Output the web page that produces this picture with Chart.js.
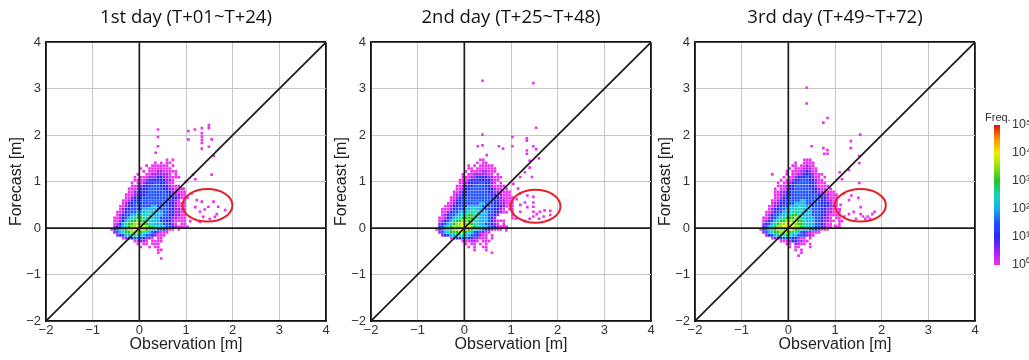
<!DOCTYPE html>
<html>
<head>
<meta charset="utf-8">
<script src="https://cdn.jsdelivr.net/npm/chart.js@4.4.1/dist/chart.umd.min.js"></script>
<style>
  html, body { margin: 0; padding: 0; background: #fff; }
  #wrap { position: relative; width: 1029px; height: 360px; overflow: hidden; }
  canvas { position: absolute; top: 0; }
</style>
</head>
<body>
<div id="wrap">
  <canvas id="day1" width="334" height="360" style="left:0px"></canvas>
  <canvas id="day2" width="334" height="360" style="left:325px"></canvas>
  <canvas id="day3" width="334" height="360" style="left:649px"></canvas>
  <canvas id="cbar" width="74" height="190" style="left:955px;top:95px"></canvas>
</div>
<script>
// DATA
const TITLES = ['1st day (T+01~T+24)', '2nd day (T+25~T+48)', '3rd day (T+49~T+72)']
const X_TITLE = 'Observation [m]'
const Y_TITLE = 'Forecast [m]'
const AXIS_TICKS = [-2, -1, 0, 1, 2, 3, 4]
const FREQ_TICKS = [1, 10, 100, 1000, 10000, 100000]
const FREQ_LABELS = ['10\u2070', '10\u00b9', '10\u00b2', '10\u00b3', '10\u2074', '10\u2075']

// reference lines
const DIAGONAL = [[-2, -2], [4, 4]]
const ZERO_X = [[0, -2], [0, 4]]
const ZERO_Y = [[-2, 0], [4, 0]]

// histogram bins: 0.0625 m, cols start at x=-0.625, rows start at y=1.5 going down
const BIN = 0.0625
const GRID_X0 = -0.625
const GRID_YTOP = 1.5
// digit = 2*log10(freq): 0 -> 10^0 ... 8 -> 10^4
const LEVEL_COLORS = ['#ee30f0', '#a020f5', '#2a2af2', '#1e50ff', '#14b0f0', '#14d2c0',
                      '#22c622', '#90e012', '#f0f000', '#ff9000', '#e01010']

// [start column, cells] per row, top row first
const DAY1_ROWS = [
  [19, '0.0'],
  [15, '0.0.00'],
  [12, '0.000000.0'],
  [10, '0..00000000'],
  [11, '0.0001100000'],
  [9, '0..001111110.0'],
  [8, '0.00011122110000'],
  [8, '00001222222110'],
  [7, '0.0012223322100'],
  [7, '00112223332221000'],
  [6, '0001222333332211000'],
  [6, '00112223333332211000'],
  [5, '000122233333333221100'],
  [5, '0012223333333332221000'],
  [4, '00122233333333332210.0'],
  [4, '0122333333333333221000'],
  [3, '00122333333443333221000'],
  [3, '01223333444443333221100'],
  [2, '001233344455444433221100'],
  [2, '012334445555544433221100'],
  [1, '0012345566555544333211000'],
  [1, '0012456676655444332210000'],
  [1, '0124566777665544433210.00'],
  [1, '12345677888766554433210000'],
  [0, '0234567788776544332100.0'],
  [1, '1345667776554321000'],
  [2, '12344555443321000'],
  [4, '01223332110.00'],
  [8, '00110.0000'],
  [9, '0.00.000'],
  [10, '0..0.00'],
  [16, '00'],
  [16, '0'],
  [0, ''],
  [17, '0'],
]
const DAY2_ROWS = [
  [15, '00'],
  [14, '0.00'],
  [11, '0.0.00000'],
  [11, '00.0000000'],
  [10, '0.000011000'],
  [9, '0.001111100.0'],
  [9, '00011222211000'],
  [8, '00012222222100'],
  [8, '0012222332210.0'],
  [7, '00122233332210000'],
  [7, '0012233333322100.0'],
  [6, '00122333333322110000'],
  [6, '01122333333332211000'],
  [5, '0012233333333322210000'],
  [5, '0122333333333332211000'],
  [4, '00122333333443332211000'],
  [3, '001223334444433332221000'],
  [2, '0001233344554443332210.00'],
  [2, '00123344455554443322100.0'],
  [2, '01233445566554443321....0'],
  [1, '00123455666655444321.....0'],
  [1, '01234566776655444321000'],
  [1, '123456778776554433210.0'],
  [1, '234567778887655443321000'],
  [0, '02345677887665443221000'],
  [1, '134566677654321100'],
  [2, '1234455544332100.0'],
  [5, '0122332211000.0'],
  [9, '000110.000'],
  [10, '0.00.0.0'],
  [11, '0.0..00'],
  [13, '0...0'],
  [19, '0'],
]
const DAY3_ROWS = [
  [15, '000'],
  [12, '0..0000'],
  [11, '00.00100'],
  [10, '0.00011100'],
  [9, '0.000112100'],
  [4, '0....0.00112221000'],
  [8, '0.00122232100.0'],
  [7, '0.0012233322100'],
  [6, '0.001223333221000'],
  [6, '000122333332210000'],
  [5, '0.0012233333322100.0'],
  [5, '001122333333322110000'],
  [5, '0011223333333332211000'],
  [5, '0012233333333332221000'],
  [4, '00122333334433333221100'],
  [4, '01122333444433333222100'],
  [3, '001223344455444333222110'],
  [3, '0122334455554443332211000'],
  [2, '00123344555554443332211000'],
  [2, '01233445566554443332210000'],
  [1, '001234556667655444332110.00'],
  [1, '0123456677776654443321100.0'],
  [1, '123456778887665544332100..0'],
  [1, '234567788887765544332100.00'],
  [0, '023456777887665443321000'],
  [1, '13456677765543211000'],
  [2, '12344556544332110'],
  [4, '012233322100.0'],
  [7, '0001221100'],
  [9, '00.1100.0'],
  [10, '0.00...0'],
  [12, '0.0'],
  [14, '0'],
  [13, '0'],
]

// single counts away from the main cloud, [obs, fcst]
const DAY1_DOTS = [
  [0.4, 2.12], [0.4, 1.96], [0.4, 1.76], [0.35, 1.62], [1.05, 2.09], [1.05, 1.91], [1.19, 2.12],
  [1.34, 2.15], [1.34, 2.04], [1.34, 1.97], [1.34, 1.9], [1.34, 1.83], [1.34, 1.71], [1.49, 2.21],
  [1.49, 2.15], [1.49, 1.75], [1.55, 1.91], [1.6, 1.55], [1.55, 1.15], [1.15, 1.15], [1.2, 1.05],
  [0.95, 0.85], [1.0, 1.0], [1.12, 0.75],
  [1.23, 0.6], [1.34, 0.57], [1.48, 0.46], [1.59, 0.57], [1.69, 0.46], [1.84, 0.39], [1.3, 0.35],
  [1.37, 0.24], [1.51, 0.2], [1.62, 0.24], [1.66, 0.3], [1.09, 0.15], [1.3, 0.13], [1.2, 0.45], [1.4, 0.4],
]
const DAY2_DOTS = [
  [0.39, 3.17], [1.48, 3.12], [0.39, 2.01], [1.54, 2.16], [1.03, 1.96], [1.34, 1.93], [1.34, 1.88],
  [0.39, 1.78], [0.29, 1.76], [0.74, 1.76], [0.83, 1.71], [1.03, 1.76], [1.34, 1.67], [1.48, 1.76],
  [1.54, 1.7], [0.48, 1.57], [1.34, 1.6], [1.4, 1.45], [1.4, 1.3], [1.3, 1.2], [1.2, 1.1], [1.45, 1.1],
  [1.6, 1.5], [1.15, 0.85], [1.05, 0.95], [1.2, 0.75], [0.85, 0.05], [0.9, -0.05],
  [1.12, 0.62], [1.2, 0.5], [1.2, 0.35], [1.3, 0.55], [1.35, 0.7], [1.35, 0.45], [1.48, 0.67],
  [1.48, 0.55], [1.48, 0.46], [1.48, 0.35], [1.48, 0.25], [1.55, 0.3], [1.6, 0.2], [1.62, 0.35],
  [1.7, 0.25], [1.72, 0.38], [1.84, 0.37], [1.84, 0.28], [1.4, 0.2], [1.3, 0.15], [1.1, 0.2],
]
const DAY3_DOTS = [
  [0.39, 3.02], [0.39, 2.68], [0.84, 2.37], [0.75, 2.27], [1.54, 2.01], [1.34, 1.87], [1.34, 1.72],
  [0.5, 1.76], [0.75, 1.72], [0.84, 1.68], [0.77, 1.6], [0.84, 1.6], [1.52, 1.4], [1.52, 1.55],
  [1.1, 1.2], [1.15, 1.05], [1.52, 0.97], [1.3, 1.25], [1.1, 0.4], [1.15, 0.15], [1.0, 0.05],
  [1.2, 0.75], [1.3, 0.6], [1.35, 0.7], [1.5, 0.65], [1.55, 0.45], [1.4, 0.35], [1.3, 0.3],
  [1.55, 0.3], [1.6, 0.25], [1.65, 0.2], [1.7, 0.25], [1.8, 0.3], [1.85, 0.35], [1.45, 0.2],
  [1.2, 0.25], [1.12, 0.5], [1.75, 0.2],
]

// red circle marks: [cx, cy, rx, ry] in metres
const ELLIPSES = [[1.46, 0.49, 0.535, 0.35], [1.525, 0.47, 0.535, 0.355], [1.545, 0.49, 0.545, 0.35]]


// UTILS
const toXY = pts => pts.map(([x, y]) => ({x, y}))
const fmtTick = v => v < 0 ? '\u2212' + (-v) : String(v)

const gridToCells = rows => {
    const cells = []
    rows.forEach(([start, body], r) => {
        [...body].forEach((ch, i) => {
            if (ch === '.') return
            cells.push({x: GRID_X0 + (start + i + 0.5) * BIN, y: GRID_YTOP - (r + 0.5) * BIN, level: +ch})
        })
    })
    return cells
}

const cellRadius = ctx => {
    const s = ctx.chart.scales.x
    if (!s) return 1.5
    return Math.abs(s.getPixelForValue(BIN) - s.getPixelForValue(0)) * 0.9 / Math.SQRT2
}

const TICK_FONT = {family: 'Liberation Sans', size: 13}
const AXIS_FONT = {family: 'Liberation Sans', size: 16}
const GRID = '#c6c6c6'
const FRAME = '#111'


// PANELS
const makePanel = (id, idx, rows, dots) => {
    const cells = gridToCells(rows)
    const ellipse = {
        id: 'ellipse' + idx,
        afterDatasetsDraw(chart) {
            const [cx, cy, rx, ry] = ELLIPSES[idx]
            const {x, y} = chart.scales
            const ctx = chart.ctx
            ctx.save()
            ctx.beginPath()
            ctx.ellipse(x.getPixelForValue(cx), y.getPixelForValue(cy),
                Math.abs(x.getPixelForValue(cx + rx) - x.getPixelForValue(cx)),
                Math.abs(y.getPixelForValue(cy + ry) - y.getPixelForValue(cy)), 0, 0, Math.PI * 2)
            ctx.strokeStyle = '#e3222b'
            ctx.lineWidth = 2
            ctx.stroke()
            ctx.restore()
        }
    }
    const axis = (title, isX) => ({
        type: 'linear', min: -2, max: 4,
        afterBuildTicks: s => { s.ticks = AXIS_TICKS.map(v => ({value: v})) },
        afterFit: s => {
            if (isX) { s.height = 39; s.paddingLeft = 0; s.paddingRight = 0 }
            else s.width = 46
        },
        ticks: {callback: v => fmtTick(v), font: TICK_FONT, color: '#333', padding: isX ? 2 : 5, maxRotation: 0},
        grid: {
            drawTicks: false,
            color: c => c.tick && c.tick.value === 4 ? FRAME : GRID,
            lineWidth: c => c.tick && c.tick.value === 4 ? 1.8 : 1,
        },
        border: {color: FRAME, width: 1.8},
        title: {display: true, text: title, font: AXIS_FONT, color: '#222',
                padding: isX ? {top: 0, bottom: 6} : {top: 7, bottom: 0}},
    })
    const line = pts => ({type: 'line', data: toXY(pts), borderColor: '#1c1c1c', borderWidth: 1.7,
                          pointRadius: 0, fill: false})

    return new Chart(document.getElementById(id), {
        type: 'scatter',
        data: {
            datasets: [
                line(DIAGONAL),
                line(ZERO_X),
                line(ZERO_Y),
                {data: toXY(dots), backgroundColor: LEVEL_COLORS[0], pointStyle: 'rect',
                 pointRadius: cellRadius, pointBorderWidth: 0},
                {data: cells, backgroundColor: cells.map(c => LEVEL_COLORS[c.level]), pointStyle: 'rect',
                 pointRadius: cellRadius, pointBorderWidth: 0},
            ]
        },
        options: {
            responsive: false, animation: false, events: [],
            layout: {padding: {left: 0, right: 8, top: 0, bottom: 0}},
            plugins: {
                legend: {display: false},
                tooltip: {enabled: false},
                title: {display: true, text: TITLES[idx], fullSize: false, color: '#111',
                        font: {family: 'Open Sans', size: 18.5, weight: 'normal'},
                        padding: {top: 7, bottom: 13}},
            },
            scales: {x: axis(X_TITLE, true), y: axis(Y_TITLE, false)},
        },
        plugins: [ellipse],
    })
}

makePanel('day1', 0, DAY1_ROWS, DAY1_DOTS)
makePanel('day2', 1, DAY2_ROWS, DAY2_DOTS)
makePanel('day3', 2, DAY3_ROWS, DAY3_DOTS)


// COLOR BAR
const freqLabel = {
    id: 'freqLabel',
    afterDraw(chart) {
        const {ctx, chartArea} = chart
        ctx.save()
        ctx.font = '11px "Liberation Sans"'
        ctx.fillStyle = '#333'
        ctx.textBaseline = 'middle'
        ctx.textAlign = 'left'
        ctx.fillText('Freq.', chartArea.left - 9, chartArea.top - 7)
        ctx.restore()
    }
}
const barGradient = c => {
    const area = c.chart.chartArea
    if (!area) return LEVEL_COLORS[0]
    const g = c.chart.ctx.createLinearGradient(0, area.bottom, 0, area.top)
    LEVEL_COLORS.forEach((col, i) => g.addColorStop(i / (LEVEL_COLORS.length - 1), col))
    return g
}

new Chart(document.getElementById('cbar'), {
    type: 'bar',
    data: {
        labels: [''],
        datasets: [{data: [[FREQ_TICKS[0], FREQ_TICKS[FREQ_TICKS.length - 1]]], backgroundColor: barGradient,
                    barPercentage: 1, categoryPercentage: 1, borderWidth: 0}]
    },
    options: {
        responsive: false, animation: false, events: [],
        layout: {padding: {left: 39, right: 0, top: 30, bottom: 20}},
        plugins: {legend: {display: false}, tooltip: {enabled: false}},
        scales: {
            x: {display: false},
            y: {
                type: 'logarithmic', position: 'right', min: 1, max: 100000,
                afterBuildTicks: s => { s.ticks = FREQ_TICKS.map(v => ({value: v})) },
                afterFit: s => { s.width = 29 },
                ticks: {callback: (v, i) => FREQ_LABELS[i], font: {family: 'Liberation Sans', size: 12.5},
                        color: '#333', padding: 4},
                grid: {display: false},
                border: {display: false},
            }
        }
    },
    plugins: [freqLabel],
})
</script>
</body>
</html>
